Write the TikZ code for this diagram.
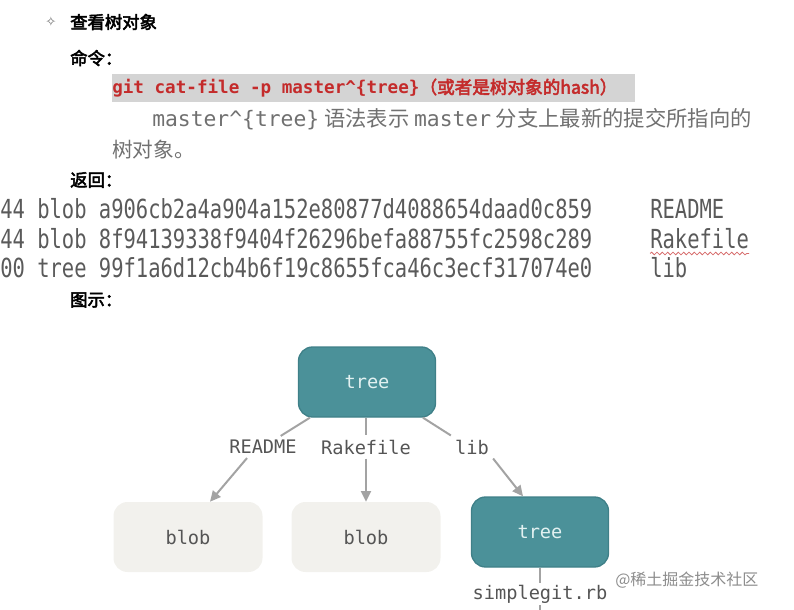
\documentclass[tikz,border=0pt]{standalone}
\usepackage{fontspec}
\setmainfont{Noto Sans CJK SC}[AutoFakeBold=3]
\setmonofont{DejaVu Sans Mono}
\newfontfamily\hashfont{DejaVu Sans Mono}[FakeStretch=0.78]
\newfontfamily\symfont{DejaVu Sans}
\usetikzlibrary{arrows.meta,decorations.pathmorphing}
\definecolor{tealfill}{HTML}{4B9199}
\definecolor{tealedge}{HTML}{3F8088}
\definecolor{treetxt}{HTML}{E2F1F1}
\definecolor{blobfill}{HTML}{F2F1ED}
\definecolor{arrowgray}{HTML}{A3A3A3}
\definecolor{labelgray}{HTML}{555555}
\definecolor{redtxt}{HTML}{C42B2B}
\definecolor{hlgray}{HTML}{D4D4D4}
\definecolor{txtgray}{HTML}{707070}
\definecolor{rowgray}{HTML}{5A5A5A}
\tikzset{
  treebox/.style={draw=tealedge, line width=1pt, fill=tealfill, rounded corners=10.5pt,
    minimum width=102.75pt, minimum height=52.5pt, text=treetxt,
    font=\ttfamily\fontsize{14pt}{16pt}\selectfont},
  blobbox/.style={fill=blobfill, rounded corners=10.5pt,
    minimum width=111.75pt, minimum height=52.5pt, text=labelgray,
    font=\ttfamily\fontsize{14pt}{16pt}\selectfont},
  edgelabel/.style={text=labelgray, inner sep=3pt,
    font=\ttfamily\fontsize{14pt}{16pt}\selectfont},
  conn/.style={draw=arrowgray, line width=1.5pt},
  arr/.style={conn, -{Triangle[length=8pt,width=7.5pt]}},
  heading/.style={anchor=west, inner sep=0pt, font=\bfseries\fontsize{13pt}{15pt}\selectfont},
  rowtxt/.style={anchor=west, inner sep=0pt, text=rowgray, font=\hashfont\fontsize{19.7pt}{22pt}\selectfont},
  fname/.style={anchor=west, inner sep=0pt, text=rowgray, font=\hashfont\fontsize{19.7pt}{22pt}\selectfont},
}
\begin{document}
\begin{tikzpicture}[x=0.75pt,y=-0.75pt]
\useasboundingbox (0,0) rectangle (794,610);
% header
\node[inner sep=0pt, text=txtgray, font=\symfont\fontsize{10pt}{11pt}\selectfont] (bullet) at (51,22) {✧};
\node[heading] (h1) at (70,22) {查看树对象};
\node[heading] (h2) at (70,58) {命令：};
\fill[hlgray] (112,74) rectangle (635,102);
\node[anchor=west, inner sep=0pt, text=redtxt, font=\bfseries\fontsize{13.2pt}{15pt}\selectfont] (cmd) at (112,88)
  {{\ttfamily git cat-file -p master\textasciicircum\{tree\}}（或者是树对象的hash）};
\node[anchor=west, inner sep=0pt, text=txtgray, font=\fontsize{16pt}{19pt}\selectfont] (desc1) at (152,119)
  {{\ttfamily master\textasciicircum\{tree\}} 语法表示 {\ttfamily master} 分支上最新的提交所指向的};
\node[anchor=west, inner sep=0pt, text=txtgray, font=\fontsize{15.5pt}{18pt}\selectfont] (desc2) at (112,150) {树对象。};
\node[heading] (h3) at (70,180) {返回：};
% rows
\node[rowtxt] (r1) at (0,209) {44 blob a906cb2a4a904a152e80877d4088654daad0c859};
\node[rowtxt] (r2) at (0,239) {44 blob 8f94139338f9404f26296befa88755fc2598c289};
\node[rowtxt] (r3) at (0,268) {00 tree 99f1a6d12cb4b6f19c8655fca46c3ecf317074e0};
\node[fname] (f1) at (650,209) {README};
\node[fname] (f2) at (650,239) {Rakefile};
\node[fname] (f3) at (650,268) {lib};
\draw[redtxt!70, line width=0.6pt, decorate, decoration={snake, amplitude=1pt, segment length=4pt}]
  ([yshift=-3pt]f2.south west) -- ([yshift=-3pt]f2.south east);
\node[heading] (h4) at (70,300) {图示：};
% diagram
\node[treebox] (T) at (367,382) {tree};
\node[blobbox] (b1) at (188,537) {blob};
\node[blobbox] (b2) at (366,537) {blob};
\node[treebox] (T2) at (540,532) {tree};
\node[edgelabel] (lr) at (263,447) {README};
\node[edgelabel] (lk) at (366,447) {Rakefile};
\node[edgelabel] (ll) at (472,447) {lib};
\node[edgelabel, inner sep=1.5pt] (sg) at (540,594) {simplegit.rb};
\coordinate (bottom) at (540,610);
\draw[conn] (T) -- (lr);
\draw[arr] ([xshift=-12pt]lr.south) -- ([xshift=16.5pt]b1.north);
\draw[conn] (T.south -| lk) -- (lk);
\draw[arr] (lk) -- (b2);
\draw[conn] (T) -- (ll.north west);
\draw[arr] (ll.south east) -- ([xshift=-12.75pt]T2.north);
\draw[conn] (T2) -- (sg);
\draw[conn] (sg) -- (bottom);
% watermark
\node[anchor=west, inner sep=0pt, text=black!45, font=\fontsize{12pt}{14pt}\selectfont] (wm) at (615,580) {@稀土掘金技术社区};
\end{tikzpicture}
\end{document}
